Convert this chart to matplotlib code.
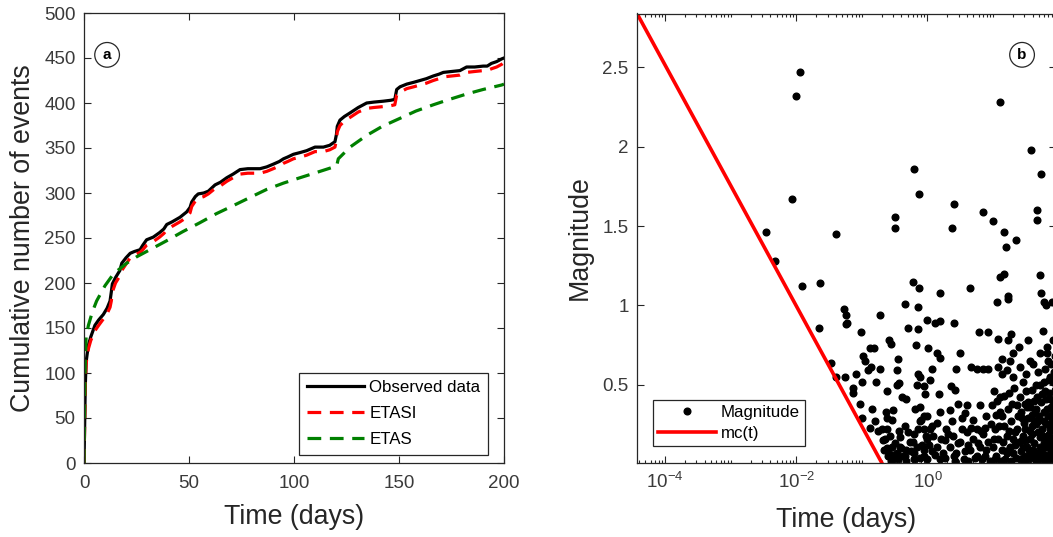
import numpy as np
import matplotlib
matplotlib.use("Agg")
import matplotlib.pyplot as plt
from matplotlib.ticker import LogLocator, NullFormatter

plt.rcParams['font.family'] = ['Liberation Sans', 'DejaVu Sans']
plt.rcParams['mathtext.fontset'] = 'custom'
plt.rcParams['mathtext.rm'] = 'Liberation Sans'
plt.rcParams['mathtext.default'] = 'regular'

# ---------------- Panel (a) data ----------------
obs_t = [0, 0.3, 0.6, 1.0, 1.5, 2.1, 3.2, 5.2, 7, 9.2, 11, 12.4, 13, 13.5, 15,
         17.1, 18, 20, 22, 24, 26.7, 28, 29.8, 33, 36, 38, 39.4, 42, 45.7, 48.9,
         50.5, 51.3, 53, 54.4, 57, 59.2, 62.4, 65, 68, 71, 74.3, 78, 83.8, 87, 90.1,
         93, 95, 97, 99.7, 103, 106, 110, 114, 117, 119.5, 120.2, 120.6, 121.9, 124, 126.7,
         130.6, 134.6, 138, 142.5, 146, 148, 148.9, 150.5, 153.7, 157, 160, 163, 166.3, 169, 171.1,
         175, 179, 182.2, 186, 190.1, 192, 194, 196.5, 198.9, 200]
obs_n = [0, 40, 85, 112, 121, 131, 140, 153, 159, 165, 172, 180, 190, 199, 206,
         214, 222, 228, 233, 235, 237, 242, 248, 251, 256, 260, 265, 268, 273, 279,
         284, 290, 296, 299, 300, 302, 309, 312, 317, 321, 326, 327, 327, 329, 332,
         335, 338, 340, 343, 345, 347, 351, 351, 353, 357, 365, 374, 381, 385, 389,
         395, 400, 401, 402, 403, 404, 415, 418, 421, 423, 425, 427, 430, 432, 434,
         435, 436, 440, 440, 441, 441, 444, 446, 449, 450]
etasi_n = [0, 40, 85, 110, 119, 127, 136, 147, 153, 160, 166, 173, 180, 190, 200,
           208, 214, 221, 228, 231, 234, 237, 242, 246, 251, 255, 259, 263, 268, 273,
           278, 285, 291, 294, 296, 299, 305, 308, 313, 317, 321, 322, 322, 324, 327,
           330, 333, 335, 338, 340, 342, 346, 346, 348, 351, 359, 368, 375, 380, 384,
           390, 394, 395, 396, 397, 398, 409, 412, 416, 418, 420, 422, 425, 427, 429,
           430, 431, 434, 435, 436, 436, 438, 440, 443, 445]
etas_t = [0, 0.3, 0.6, 1.0, 2.1, 4, 6, 10, 14, 20.3, 25, 31.4, 39.4, 47, 55.2,
          63, 71.1, 79, 87, 95, 102.9, 111, 120.3, 121.1, 126.7, 134.6, 142, 150.5, 158, 166.3,
          174, 182.2, 190, 198.9, 200]
etas_n = [0, 60, 110, 140, 153, 168, 180, 197, 210, 222, 229, 237, 247, 257, 267,
          277, 286, 295, 304, 311, 317, 323, 330, 338, 351, 364, 374, 383, 391, 398,
          404, 410, 415, 420, 421]
a_xticks = [0, 50, 100, 150, 200]
a_yticks = [0, 50, 100, 150, 200, 250, 300, 350, 400, 450, 500]

# ---------------- Panel (b) data (log10 of time in days, magnitude) ----------------
events_sparse = [(-1.95, 2.47), (-2.01, 2.32), (-2.06, 1.67), (-2.46, 1.46), (-2.32, 1.28),
                 (-1.91, 1.12), (-1.64, 1.14), (-1.40, 1.45), (-1.66, 0.86), (-1.47, 0.64),
                 (-1.40, 0.55), (-1.27, 0.98), (-1.24, 0.94), (-1.22, 0.89), (-1.25, 0.88),
                 (-0.49, 1.56), (-0.49, 1.49), (-0.22, 1.15), (-0.20, 1.86), (-0.13, 1.70),
                 (-0.13, 1.11), (0.37, 1.49), (0.41, 1.64), (0.19, 1.08), (0.65, 1.11),
                 (0.84, 1.59), (1.00, 1.53), (1.10, 2.28), (1.10, 1.18), (1.17, 1.20),
                 (1.16, 1.46), (1.19, 1.37), (1.35, 1.41), (1.58, 1.98), (1.73, 1.83),
                 (1.67, 1.60), (1.67, 1.54), (1.72, 1.19), (1.73, 1.08), (1.77, 1.02),
                 (1.81, 1.00), (1.90, 1.02), (1.06, 1.02), (1.23, 1.06), (1.23, 1.04)]
events_mid = [(-1.26, 0.55), (-1.13, 0.48), (-1.13, 0.45), (-1.01, 0.83), (-1.09, 0.57),
              (-1.00, 0.52), (-1.03, 0.38), (-1.00, 0.29), (-0.88, 0.23), (-0.98, 0.68),
              (-0.96, 0.65), (-0.90, 0.59), (-0.86, 0.61), (-0.88, 0.73), (-0.82, 0.73),
              (-0.72, 0.94), (-0.79, 0.52), (-0.72, 0.60), (-0.62, 0.46), (-0.63, 0.33),
              (-0.70, 0.22), (-0.62, 0.22), (-0.58, 0.78), (-0.555, 0.76), (-0.45, 0.66),
              (-0.47, 0.59), (-0.44, 0.51), (-0.47, 0.50), (-0.34, 1.01), (-0.29, 0.86),
              (-0.15, 0.99), (-0.14, 0.85), (-0.17, 0.75), (-0.15, 0.57), (-0.11, 0.55),
              (-0.16, 0.50), (-0.06, 0.49), (-0.32, 0.41), (-0.12, 0.36), (-0.01, 0.91),
              (0.12, 0.89), (0.19, 0.90), (0.01, 0.73), (0.14, 0.70), (0.19, 0.67),
              (0.065, 0.60), (-0.04, 0.44), (0.04, 0.53), (0.41, 0.89), (0.50, 0.70),
              (0.43, 0.60), (0.36, 0.49), (0.42, 0.47), (0.78, 0.83), (0.93, 0.83),
              (0.67, 0.61), (0.75, 0.60), (0.85, 0.60), (0.93, 0.60), (1.28, 0.82),
              (1.23, 0.78), (1.08, 0.79), (1.13, 0.66), (1.76, 0.84), (1.54, 0.78),
              (1.39, 0.74), (1.31, 0.70), (1.72, 0.70), (1.82, 0.70)]
events_low_a = [(-0.85, 0.35), (-0.80, 0.27), (-0.75, 0.21), (-0.68, 0.15), (-0.62, 0.10),
                (-0.58, 0.05), (-0.55, 0.02), (-0.60, 0.08), (-0.50, 0.13), (-0.52, 0.06),
                (-0.45, 0.03), (-0.40, 0.10), (-0.35, 0.05), (-0.42, 0.17), (-0.30, 0.20),
                (-0.25, 0.08), (-0.20, 0.03), (-0.22, 0.14), (-0.15, 0.22), (-0.08, 0.12),
                (-0.05, 0.05), (-0.03, 0.18), (0.00, 0.30), (-0.10, 0.28),
                (-0.67, 0.09), (-0.595, 0.05), (-0.54, 0.11), (-0.52, 0.03), (-0.47, 0.07),
                (-0.42, 0.11), (-0.37, 0.05), (-0.32, 0.09), (-0.27, 0.14), (-0.21, 0.07),
                (-0.16, 0.11), (-0.11, 0.04), (-0.06, 0.09), (-0.62, 0.29), (-0.54, 0.28),
                (-0.44, 0.21), (-0.34, 0.24), (-0.21, 0.19), (-0.11, 0.27), (-0.06, 0.22),
                (-0.01, 0.16), (-0.52, 0.34), (-0.39, 0.42), (-0.19, 0.35), (-0.06, 0.30),
                (-0.645, 0.16), (-0.57, 0.18), (-0.01, 0.03), (-0.32, 0.02)]
events_low_b = [(0.04, 0.22), (0.09, 0.18), (0.14, 0.11), (0.19, 0.03), (0.24, 0.07),
                (0.29, 0.22), (0.34, 0.11), (0.39, 0.18), (0.44, 0.07), (0.50, 0.14),
                (0.55, 0.03), (0.60, 0.20), (0.65, 0.09), (0.70, 0.16), (0.75, 0.05),
                (0.80, 0.11), (0.85, 0.19), (0.90, 0.09), (0.95, 0.02), (0.19, 0.33),
                (0.34, 0.34), (0.47, 0.38), (0.57, 0.32), (0.70, 0.28), (0.80, 0.37),
                (0.90, 0.30), (0.98, 0.37), (0.065, 0.24), (0.52, 0.22), (0.75, 0.22),
                (0.88, 0.23), (0.42, 0.02), (0.12, 0.06), (0.27, 0.15), (0.62, 0.02),
                (0.83, 0.03), (0.17, 0.44), (0.60, 0.37), (0.37, 0.27)]
events_low_c = [(1.00, 0.11), (1.03, 0.22), (1.05, 0.05), (1.08, 0.16), (1.11, 0.33),
                (1.13, 0.09), (1.16, 0.24), (1.18, 0.03), (1.21, 0.18), (1.23, 0.35),
                (1.26, 0.11), (1.28, 0.27), (1.31, 0.07), (1.34, 0.20), (1.36, 0.37),
                (1.39, 0.14), (1.41, 0.03), (1.44, 0.29), (1.46, 0.11), (1.49, 0.22),
                (1.51, 0.05), (1.54, 0.39), (1.56, 0.16), (1.59, 0.24), (1.61, 0.09),
                (1.64, 0.33), (1.66, 0.02), (1.69, 0.20), (1.72, 0.11), (1.74, 0.44),
                (1.77, 0.27), (1.79, 0.05), (1.82, 0.35), (1.84, 0.16), (1.87, 0.22),
                (1.89, 0.09), (1.01, 0.46), (1.10, 0.42), (1.17, 0.43), (1.25, 0.45),
                (1.32, 0.48), (1.41, 0.42), (1.50, 0.46), (1.59, 0.47), (1.67, 0.42),
                (1.72, 0.50), (1.79, 0.46), (1.87, 0.41), (1.05, 0.31), (1.15, 0.14),
                (1.22, 0.07), (1.30, 0.16), (1.37, 0.22), (1.45, 0.18), (1.52, 0.11),
                (1.60, 0.31), (1.69, 0.27), (1.76, 0.18), (1.83, 0.11), (1.90, 0.29),
                (1.03, 0.03), (1.12, 0.02), (1.27, 0.02), (1.35, 0.04), (1.47, 0.02),
                (1.55, 0.03), (1.64, 0.05), (1.73, 0.03), (1.81, 0.02), (1.88, 0.03),
                (1.13, 0.57), (1.21, 0.59), (1.31, 0.55), (1.41, 0.61), (1.51, 0.57),
                (1.61, 0.63), (1.69, 0.58), (1.79, 0.60), (1.87, 0.55), (1.08, 0.61),
                (1.26, 0.65), (1.46, 0.52), (1.56, 0.65), (1.84, 0.65), (1.66, 0.50)]
events_low_d = [(1.42, 0.33), (1.43, 0.08), (1.47, 0.26), (1.48, 0.38), (1.50, 0.15),
                (1.53, 0.29), (1.55, 0.09), (1.57, 0.36), (1.58, 0.05), (1.60, 0.19),
                (1.62, 0.40), (1.63, 0.13), (1.65, 0.25), (1.66, 0.35), (1.68, 0.07),
                (1.70, 0.30), (1.71, 0.17), (1.73, 0.39), (1.74, 0.22), (1.75, 0.08),
                (1.77, 0.33), (1.78, 0.13), (1.80, 0.25), (1.81, 0.41), (1.82, 0.06),
                (1.84, 0.30), (1.85, 0.19), (1.86, 0.45), (1.87, 0.12), (1.88, 0.36),
                (1.89, 0.26), (1.90, 0.05), (1.91, 0.16), (1.92, 0.40), (1.92, 0.33),
                (1.93, 0.22), (1.93, 0.10), (1.94, 0.47), (1.94, 0.29), (1.95, 0.03),
                (1.95, 0.14), (1.95, 0.37), (1.91, 0.52), (1.85, 0.53), (1.78, 0.52),
                (1.93, 0.58), (1.88, 0.63), (1.94, 0.68), (1.83, 0.74), (1.92, 0.78),
                (1.70, 0.06), (1.62, 0.27), (1.57, 0.21), (1.52, 0.36), (1.46, 0.04),
                (1.44, 0.15), (1.38, 0.30), (1.33, 0.12), (1.29, 0.38), (1.24, 0.21),
                (1.20, 0.08), (1.14, 0.30), (1.09, 0.24), (1.06, 0.40), (1.02, 0.16),
                (0.97, 0.25), (0.92, 0.14), (0.87, 0.05), (0.82, 0.21), (0.77, 0.13),
                (0.72, 0.04), (0.67, 0.23), (0.62, 0.12), (0.57, 0.08), (0.52, 0.29),
                (0.47, 0.13), (0.40, 0.05), (0.32, 0.19), (0.26, 0.04), (0.21, 0.16),
                (0.15, 0.26), (0.07, 0.08), (0.02, 0.12)]
mc_log10_t = [-4.43, -0.70]
mc_values = [2.84, 0.01]
b_yticks = [0.5, 1, 1.5, 2, 2.5]
b_yticklabels = ['0.5', '1', '1.5', '2', '2.5']
b_xticks = [1e-4, 1e-2, 1e0]
b_xticklabels = ['$10^{-4}$', '$10^{-2}$', '$10^{0}$']

ev = np.array(events_sparse + events_mid + events_low_a + events_low_b
              + events_low_c + events_low_d)
ev_t = 10 ** ev[:, 0]
ev_m = ev[:, 1]

W, H = 1053, 537
fig = plt.figure(figsize=(W / 100, H / 100), dpi=100)
axc = '#262626'
tc = '#3a3a3a'

def style(ax):
    for s in ax.spines.values():
        s.set_color(axc)
        s.set_linewidth(0.9)
    ax.tick_params(which='both', direction='in', top=True, right=True, colors=axc,
                   labelcolor=tc, labelsize=13.5, width=0.8)
    ax.tick_params(which='major', length=5)
    ax.tick_params(which='minor', length=2.5)

# ---------- Panel (a) ----------
ax1 = fig.add_axes([84 / W, (H - 463) / H, 420 / W, 450 / H])
ax1.plot(obs_t, obs_n, color='black', lw=2.3, label='Observed data', solid_joinstyle='round')
ax1.plot(obs_t, etasi_n, color='#ff0000', lw=2.3, ls=(0, (4.3, 2.7)), label='ETASI')
ax1.plot(etas_t, etas_n, color='#008000', lw=2.3, ls=(0, (4.3, 2.7)), label='ETAS')
ax1.set_xlim(0, 200)
ax1.set_ylim(0, 500)
ax1.set_xticks(a_xticks)
ax1.set_yticks(a_yticks)
style(ax1)
ax1.tick_params(axis='x', pad=9)
ax1.tick_params(axis='y', pad=6)
ax1.set_xlabel('Time (days)', fontsize=19.3, color=axc, va='center')
ax1.xaxis.set_label_coords(0.5, -0.12)
ax1.set_ylabel('Cumulative number of events', fontsize=19.3, color=axc, va='center')
ax1.yaxis.set_label_coords(-0.145, 0.5)
leg1 = ax1.legend(loc='lower right', bbox_to_anchor=(0.962, 0.018), borderaxespad=0,
                  fontsize=12.2, frameon=True, fancybox=False, framealpha=1,
                  edgecolor=axc, handlelength=3.4, handletextpad=0.3,
                  labelspacing=0.65, borderpad=0.45)
leg1.get_frame().set_linewidth(0.9)
ax1.text(0.055, 0.907, 'a', transform=ax1.transAxes, ha='center', va='center',
         fontsize=11, fontweight='bold', color='black',
         bbox=dict(boxstyle='circle,pad=0.35', fc='white', ec=axc, lw=0.9))

# ---------- Panel (b) ----------
ax2 = fig.add_axes([637 / W, (H - 462.5) / H, 419 / W, 449 / H])
ax2.set_xscale('log')
ax2.plot(ev_t, ev_m, ls='none', marker='o', ms=4.8, color='black', mec='black',
         label='Magnitude')
ax2.plot(10 ** np.array(mc_log10_t), mc_values, color='#ff0000', lw=2.6, label='mc(t)')
ax2.set_xlim(10 ** -4.43, 10 ** 1.96)
ax2.set_ylim(0.01, 2.84)
ax2.set_xticks(b_xticks)
ax2.set_xticklabels(b_xticklabels)
ax2.xaxis.set_minor_locator(LogLocator(base=10, subs=np.arange(1, 10), numticks=100))
ax2.xaxis.set_minor_formatter(NullFormatter())
ax2.set_yticks(b_yticks)
ax2.set_yticklabels(b_yticklabels)
style(ax2)
ax2.tick_params(axis='x', pad=7)
ax2.tick_params(axis='y', pad=6)
ax2.set_xlabel('Time (days)', fontsize=19.3, color=axc, va='center')
ax2.xaxis.set_label_coords(0.5, -0.128)
ax2.set_ylabel('Magnitude', fontsize=19.3, color=axc, va='center')
ax2.yaxis.set_label_coords(-0.136, 0.5)
leg2 = ax2.legend(loc='lower left', bbox_to_anchor=(0.038, 0.037), borderaxespad=0,
                  fontsize=12.2, frameon=True, fancybox=False, framealpha=1,
                  edgecolor=axc, handlelength=3.4, handletextpad=0.3,
                  labelspacing=0.35, borderpad=0.3)
leg2.get_frame().set_linewidth(0.9)
ax2.text(0.919, 0.908, 'b', transform=ax2.transAxes, ha='center', va='center',
         fontsize=11, fontweight='bold', color='black',
         bbox=dict(boxstyle='circle,pad=0.35', fc='white', ec=axc, lw=0.9))

fig.savefig('out.png', dpi=100)
